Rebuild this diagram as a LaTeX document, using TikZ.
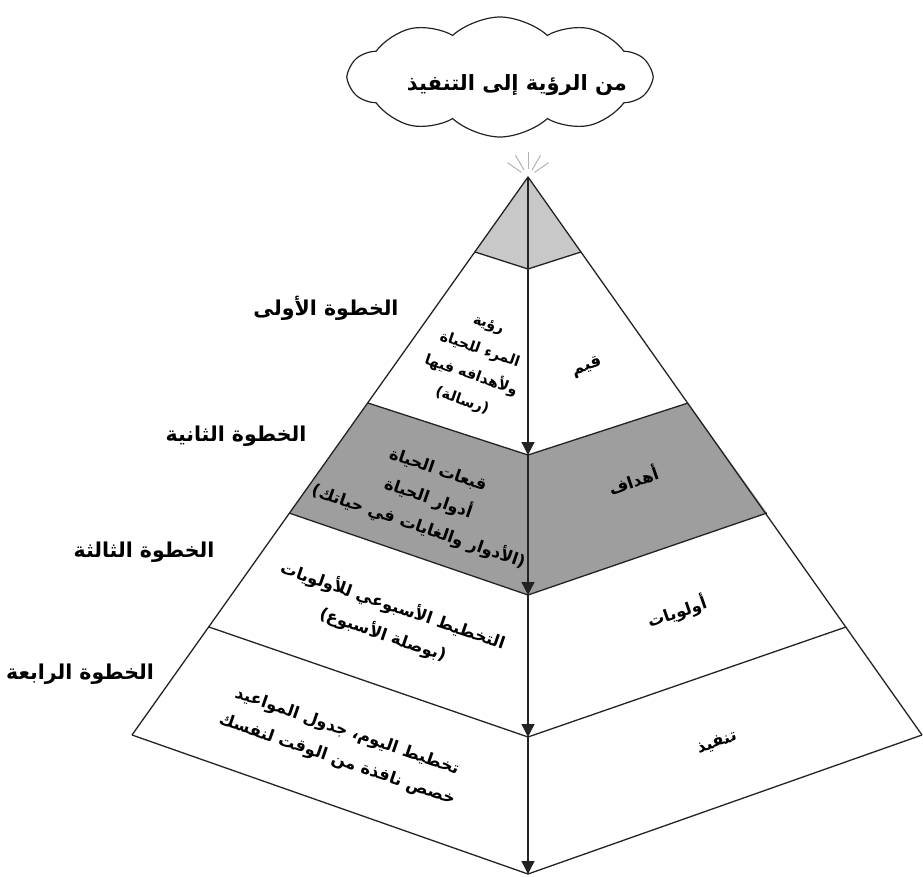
\documentclass[tikz,border=0pt]{standalone}
\usepackage{fontspec}
\TeXXeTstate=1
\newfontfamily\arabicfont[Script=Arabic]{DejaVu Sans}
\usetikzlibrary{shapes.symbols,arrows.meta,calc}
\definecolor{capgray}{RGB}{200,200,200}
\definecolor{bandgray}{RGB}{158,158,158}
\definecolor{linecol}{RGB}{35,35,35}
\newcommand{\artx}[1]{\beginR #1\endR}
\begin{document}
\begin{tikzpicture}[x=1pt,y=-1pt,
  edge/.style={draw=linecol, line width=1.3pt, line join=round},
  flow/.style={draw=linecol, line width=1.3pt, -{Triangle[length=13pt,width=13pt]}},
  ray/.style={draw=gray!60, line width=1pt},
  steplabel/.style={font=\arabicfont\bfseries\fontsize{20.5}{24}\selectfont, inner sep=0pt},
  facelabel/.style={font=\arabicfont\bfseries\fontsize{16.5}{30}\selectfont, inner sep=0pt, align=center},
  smallface/.style={font=\arabicfont\bfseries\fontsize{14.5}{27}\selectfont, inner sep=0pt, align=center},
  titlelabel/.style={font=\arabicfont\bfseries\fontsize{21}{24}\selectfont, inner sep=0pt}
]
\useasboundingbox (0,0) rectangle (923,877);
% pyramid points
\coordinate (A)  at (528,177);
\coordinate (L1) at (475,252); \coordinate (C1) at (528,269); \coordinate (R1) at (581,252);
\coordinate (L2) at (368,403); \coordinate (C2) at (528,455); \coordinate (R2) at (688,403);
\coordinate (L3) at (289,513); \coordinate (C3) at (528,595); \coordinate (R3) at (767,513);
\coordinate (L4) at (209,627); \coordinate (C4) at (528,737); \coordinate (R4) at (846,627);
\coordinate (L5) at (132,735); \coordinate (C5) at (528,874); \coordinate (R5) at (922,735);
% fills
\fill[capgray] (A) -- (L1) -- (C1) -- (R1) -- cycle;
\fill[bandgray] (L2) -- (C2) -- (R2) -- (R3) -- (C3) -- (L3) -- cycle;
% outline
\draw[edge] (L5) -- (A) -- (R5);
\draw[edge] (L1) -- (C1) -- (R1);
\draw[edge] (L2) -- (C2) -- (R2);
\draw[edge] (L3) -- (C3) -- (R3);
\draw[edge] (L4) -- (C4) -- (R4);
\draw[edge] (L5) -- (C5) -- (R5);
% central arrows
\draw[flow] (A) -- (C2);
\draw[flow] (C2) -- (C3);
\draw[flow] (C3) -- (C4);
\draw[flow] (C4) -- (C5);
% sparkle
\foreach \ang in {-35,-60,-90,-120,-145}{
  \draw[ray] ($(A)+(\ang:8)$) -- ($(A)+(\ang:25)$);
}
% cloud
\node[cloud, draw=linecol, line width=1.2pt, cloud puffs=10, cloud puff arc=85, aspect=2.6,
      minimum width=302pt, minimum height=120pt, inner sep=0pt] (cloud) at (500,77) {};
\node[titlelabel] (title) at (517,85) {\artx{من الرؤية إلى التنفيذ}};
% step labels
\node[steplabel] (s1) at (326,308) {\artx{الخطوة الأولى}};
\node[steplabel] (s2) at (236,436) {\artx{الخطوة الثانية}};
\node[steplabel] (s3) at (144,552) {\artx{الخطوة الثالثة}};
\node[steplabel] (s4) at (80,674) {\artx{الخطوة الرابعة}};
% left face labels
\node[smallface, rotate=-19] (f1) at (475,364) {\artx{رؤية}\\\artx{المرء للحياة}\\\artx{ولأهدافه فيها}\\\artx{(رسالة)}};
\node[facelabel, rotate=-19] (f2) at (428,499) {\artx{قبعات الحياة}\\\artx{أدوار الحياة}\\\artx{(الأدوار والغايات في حياتك)}};
\node[facelabel, rotate=-19] (f3) at (388,620) {\artx{التخطيط الأسبوعي للأولويات}\\\artx{(بوصلة الأسبوع)}};
\node[facelabel, rotate=-19] (f4) at (342,746) {\artx{تخطيط اليوم، جدول المواعيد}\\\artx{خصص نافذة من الوقت لنفسك}};
% right face labels
\node[facelabel, rotate=19] (r1) at (587,367) {\artx{قيم}};
\node[facelabel, rotate=19] (r2) at (633,480) {\artx{أهداف}};
\node[facelabel, rotate=19] (r3) at (677,612) {\artx{أولويات}};
\node[facelabel, rotate=19] (r4) at (717,743) {\artx{تنفيذ}};
\end{tikzpicture}
\end{document}
